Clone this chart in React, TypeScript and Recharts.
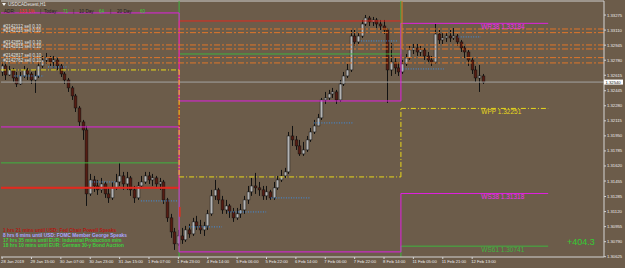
import React from 'react';
import { ComposedChart, Bar, XAxis, YAxis, ReferenceLine, ReferenceDot } from 'recharts';

const W = 625;
const H = 268;
const BG = '#6c5c4a';
const FONT = 'Liberation Sans, Arial, sans-serif';

// time axis (H1 bars, labels every 16 hours; one candle here = 2 hours)
const timeTickIdx = [0, 8, 16, 24, 32, 40, 48, 56, 64, 72, 80, 88, 96, 104, 112, 120, 128];
const timeLabels = [
  '28 Jan 2019', '29 Jan 15:00', '30 Jan 07:00', '30 Jan 23:00', '31 Jan 15:00',
  '1 Feb 07:00', '1 Feb 23:00', '4 Feb 14:00', '5 Feb 06:00', '5 Feb 22:00',
  '6 Feb 14:00', '7 Feb 06:00', '7 Feb 22:00', '8 Feb 14:00', '11 Feb 05:00',
  '11 Feb 21:00', '12 Feb 13:00',
];

const priceTicks = [
  1.33275, 1.3311, 1.32945, 1.3278, 1.32615, 1.32445, 1.3228, 1.32115, 1.3195,
  1.31785, 1.3162, 1.31455, 1.31285, 1.3112, 1.30955, 1.3079, 1.30625,
];
const bid = 1.3254;

const closes = [
  1.32717, 1.32618, 1.32673, 1.32585, 1.32519, 1.32607, 1.32673, 1.32629, 1.32563, 1.32607,
  1.32717, 1.32782, 1.32804, 1.3276, 1.32782, 1.32717, 1.32629, 1.32563, 1.32476, 1.32388,
  1.32256, 1.32103, 1.32015, 1.31314, 1.31467, 1.31401, 1.31358, 1.31423, 1.31314, 1.3127,
  1.3138, 1.31445, 1.31511, 1.31423, 1.31489, 1.31358, 1.3127, 1.31401, 1.31445, 1.31511,
  1.31467, 1.31489, 1.31423, 1.31445, 1.31248, 1.31051, 1.30897, 1.30766, 1.30853, 1.3081,
  1.30919, 1.30875, 1.31007, 1.30963, 1.30919, 1.30963, 1.31095, 1.31292, 1.31358, 1.31248,
  1.31138, 1.31182, 1.31116, 1.31051, 1.31095, 1.31138, 1.31248, 1.31336, 1.31401, 1.3138,
  1.31358, 1.31292, 1.31336, 1.3127, 1.3138, 1.31467, 1.31511, 1.31555, 1.31949, 1.31906,
  1.3184, 1.31752, 1.31796, 1.31906, 1.31993, 1.32059, 1.32147, 1.32344, 1.32366, 1.3241,
  1.32432, 1.32344, 1.32519, 1.32607, 1.32673, 1.33045, 1.3298, 1.33045, 1.33177, 1.33243,
  1.33199, 1.33221, 1.33177, 1.33155, 1.33111, 1.32673, 1.3276, 1.32695, 1.32651, 1.32739,
  1.32804, 1.32892, 1.32914, 1.3287, 1.32892, 1.32826, 1.32782, 1.3276, 1.33067, 1.33002,
  1.33024, 1.33045, 1.33024, 1.33045, 1.3298, 1.32914, 1.3287, 1.32782, 1.32673, 1.32585,
  1.32607, 1.3254,
];
const opens = [
  1.32651, 1.32717, 1.32618, 1.32673, 1.32585, 1.32519, 1.32607, 1.32673, 1.32629, 1.32563,
  1.32607, 1.32717, 1.32782, 1.32804, 1.3276, 1.32782, 1.32717, 1.32629, 1.32563, 1.32476,
  1.32388, 1.32256, 1.32103, 1.32015, 1.31314, 1.31467, 1.31401, 1.31358, 1.31423, 1.31314,
  1.3127, 1.3138, 1.31445, 1.31511, 1.31423, 1.31489, 1.31358, 1.3127, 1.31401, 1.31445,
  1.31511, 1.31467, 1.31489, 1.31423, 1.31445, 1.31248, 1.31051, 1.30897, 1.30766, 1.30853,
  1.3081, 1.30919, 1.30875, 1.31007, 1.30963, 1.30919, 1.30963, 1.31095, 1.31292, 1.31358,
  1.31248, 1.31138, 1.31182, 1.31116, 1.31051, 1.31095, 1.31138, 1.31248, 1.31336, 1.31401,
  1.3138, 1.31358, 1.31292, 1.31336, 1.3127, 1.3138, 1.31467, 1.31511, 1.31555, 1.31949,
  1.31906, 1.3184, 1.31752, 1.31796, 1.31906, 1.31993, 1.32059, 1.32147, 1.32344, 1.32366,
  1.3241, 1.32432, 1.32344, 1.32519, 1.32607, 1.32673, 1.33045, 1.3298, 1.33045, 1.33177,
  1.33243, 1.33199, 1.33221, 1.33177, 1.33155, 1.33111, 1.32673, 1.3276, 1.32695, 1.32651,
  1.32739, 1.32804, 1.32892, 1.32914, 1.3287, 1.32892, 1.32826, 1.32782, 1.3276, 1.33067,
  1.33002, 1.33024, 1.33045, 1.33024, 1.33045, 1.3298, 1.32914, 1.3287, 1.32782, 1.32673,
  1.32585, 1.32607,
];
const highs = [
  1.3276, 1.32739, 1.32717, 1.32695, 1.32651, 1.32651, 1.32717, 1.32695, 1.32651, 1.32673,
  1.3276, 1.32826, 1.32859, 1.32826, 1.32826, 1.32804, 1.32739, 1.32651, 1.32585, 1.32497,
  1.3241, 1.32278, 1.32125, 1.32059, 1.31533, 1.31511, 1.31467, 1.31489, 1.31445, 1.3138,
  1.31445, 1.31533, 1.31654, 1.31555, 1.31555, 1.31511, 1.31401, 1.31445, 1.31511, 1.31555,
  1.31555, 1.31533, 1.31511, 1.31489, 1.31467, 1.3127, 1.31095, 1.30941, 1.30919, 1.30941,
  1.30963, 1.30985, 1.31051, 1.31073, 1.31029, 1.31007, 1.31138, 1.31358, 1.31467, 1.3138,
  1.31292, 1.31248, 1.31204, 1.3116, 1.3116, 1.31204, 1.31292, 1.31401, 1.31489, 1.31544,
  1.31445, 1.31401, 1.31401, 1.31358, 1.31445, 1.31511, 1.31577, 1.31599, 1.31993, 1.32059,
  1.31949, 1.31906, 1.31884, 1.31949, 1.32037, 1.32125, 1.32191, 1.32366, 1.32432, 1.32454,
  1.32476, 1.32454, 1.32563, 1.32651, 1.32739, 1.33111, 1.33111, 1.33089, 1.33221, 1.33276,
  1.33265, 1.33254, 1.33243, 1.33221, 1.33221, 1.33133, 1.32969, 1.32804, 1.3276, 1.32782,
  1.32848, 1.32936, 1.32958, 1.32958, 1.32936, 1.32914, 1.3287, 1.32826, 1.33177, 1.33111,
  1.33089, 1.33089, 1.33111, 1.33133, 1.33067, 1.33002, 1.32936, 1.32892, 1.32804, 1.32717,
  1.32728, 1.32629,
];
const lows = [
  1.32607, 1.32563, 1.32607, 1.32541, 1.32486, 1.32508, 1.32585, 1.32563, 1.32519, 1.32421,
  1.32585, 1.32695, 1.32739, 1.32717, 1.32695, 1.32673, 1.32596, 1.32519, 1.32432, 1.32344,
  1.32212, 1.32059, 1.31906, 1.31182, 1.31292, 1.31336, 1.31303, 1.31325, 1.3127, 1.31215,
  1.31248, 1.31358, 1.31401, 1.31358, 1.31358, 1.31292, 1.31215, 1.31248, 1.3138, 1.31423,
  1.31423, 1.31401, 1.3138, 1.31358, 1.31204, 1.31007, 1.30832, 1.307, 1.30744, 1.30766,
  1.30788, 1.30832, 1.30853, 1.30919, 1.30875, 1.30853, 1.30919, 1.31073, 1.31248, 1.31204,
  1.31095, 1.31095, 1.31051, 1.31007, 1.31029, 1.31051, 1.31095, 1.31204, 1.31292, 1.31314,
  1.31292, 1.31248, 1.31248, 1.31248, 1.31248, 1.31358, 1.31445, 1.31489, 1.31533, 1.3184,
  1.31796, 1.3173, 1.3173, 1.31774, 1.31884, 1.31971, 1.32059, 1.32125, 1.323, 1.32344,
  1.32366, 1.323, 1.32322, 1.32497, 1.32585, 1.32651, 1.32936, 1.32958, 1.33024, 1.33155,
  1.33155, 1.33155, 1.33133, 1.33111, 1.33067, 1.32311, 1.32607, 1.32629, 1.32607, 1.32629,
  1.32717, 1.32782, 1.32848, 1.32826, 1.32826, 1.32782, 1.3276, 1.32717, 1.32739, 1.32958,
  1.32958, 1.3298, 1.3298, 1.33002, 1.32936, 1.3287, 1.32804, 1.32717, 1.32629, 1.32541,
  1.32432, 1.32519,
];

// weekly fibonacci pivots, one value per week
const weekFrom = [-0.3, 48.2, 108.6];
const weekTo = [48.2, 108.6, 148.7];
const wpp = [1.32673, 1.315, 1.32251];
const wr38 = [1.33298, 1.32333, 1.33184];
const ws38 = [1.32048, 1.30678, 1.31318];
const wr61 = [1.33683, 1.32848, 1.33761];
const ws61 = [1.31654, 1.30152, 1.30741];
const redLevel = [1.3138, 1.3321];
const redMark = [1.31171, 1.31062];

// open sell orders
const orderTickets = [
  '#2142112 sell 0.10', '#2142116 sell 0.10', '#2142851 sell 0.10',
  '#2142815 sell 0.10', '#2142817 sell 0.10', '#2142762 sell 0.10',
];
const orderPrices = [1.33122, 1.33082, 1.32947, 1.32903, 1.32808, 1.3275];

// short dotted levels
const dotFrom = [3.2, 12.5, 23.7, 37.8, 50.9, 61.5, 73.2, 84.9, 97.7, 109.2, 124.2];
const dotTo = [11.4, 18, 31, 47.9, 59.9, 71.9, 84.1, 95.8, 107.8, 120.3, 130.4];
const dotPrice = [
  1.32607, 1.32706, 1.31445, 1.31237, 1.30952, 1.31116, 1.3127, 1.32092, 1.32991, 1.32684, 1.33035,
];

const newsLines = [
  '1 hrs 21 mins until USD: Fed Chair Powell Speaks',
  '8 hrs 6 mins until USD: FOMC Member George Speaks',
  '17 hrs 35 mins until EUR: Industrial Production m/m',
  '18 hrs 10 mins until EUR: German 30-y Bond Auction',
];
const newsColors = ['#b01a14', '#a9a6ff', '#3fcf3f', '#3fcf3f'];

const yMin = 1.30622;
const yMax = 1.33429;
const xMin = -0.3;
const xMax = 163.9;

const candles = closes.map((c, i) => ({
  i,
  open: opens[i],
  high: highs[i],
  low: lows[i],
  close: c,
  range: [lows[i], highs[i]],
}));

function Candle(props: any) {
  const { x, y, width, height, payload } = props;
  if (x == null || y == null || !payload) return null;
  const top = Math.min(y, y + height);
  const bottom = Math.max(y, y + height);
  const span = payload.high - payload.low;
  const k = span > 0 ? (bottom - top) / span : 0;
  const yO = top + (payload.high - payload.open) * k;
  const yC = top + (payload.high - payload.close) * k;
  const bull = payload.close >= payload.open;
  const cx = Math.round(x + width / 2) + 0.5;
  const bodyTop = Math.min(yO, yC);
  const bodyH = Math.max(Math.abs(yC - yO), 1);
  return (
    <g>
      <line x1={cx} x2={cx} y1={top} y2={bottom} stroke="#121212" strokeWidth={1} />
      <rect
        x={cx - 1.4}
        y={bodyTop}
        width={2.8}
        height={bodyH}
        fill={bull ? '#b4b4b4' : '#561c12'}
        stroke="#121212"
        strokeWidth={0.5}
      />
    </g>
  );
}

function TimeTick({ x, y, payload }: any) {
  const k = timeTickIdx.indexOf(payload.value);
  return (
    <text x={x - 1} y={y + 4} fontSize={4.2} fill="#ececec" fontFamily={FONT} textAnchor="start">
      {timeLabels[k]}
    </text>
  );
}

function PriceTick({ x, y, payload }: any) {
  return (
    <text x={x + 1} y={y + 1.5} fontSize={4.2} fill="#ececec" fontFamily={FONT} textAnchor="start">
      {payload.value.toFixed(5)}
    </text>
  );
}

function seg(x1: number, y1: number, x2: number, y2: number) {
  return [{ x: x1, y: y1 }, { x: x2, y: y2 }];
}

function levelLines(values: number[], color: string, width: number, dash?: string, key = '') {
  const out: React.ReactNode[] = [];
  values.forEach((v, w) => {
    out.push(
      <ReferenceLine
        key={`${key}h${w}`}
        segment={seg(weekFrom[w], v, weekTo[w], v)}
        stroke={color}
        strokeWidth={width}
        strokeDasharray={dash}
        ifOverflow="hidden"
      />
    );
    if (w > 0) {
      out.push(
        <ReferenceLine
          key={`${key}v${w}`}
          segment={seg(weekFrom[w], values[w - 1], weekFrom[w], v)}
          stroke={color}
          strokeWidth={width}
          strokeDasharray={dash}
          ifOverflow="hidden"
        />
      );
    }
  });
  return out;
}

function textShape(label: string, color: string, size: number, dy: number, bold = false) {
  return (p: any) => (
    <text
      x={p.cx}
      y={p.cy + dy}
      fontSize={size}
      fill={color}
      fontFamily={FONT}
      fontWeight={bold ? 700 : 400}
    >
      {label}
    </text>
  );
}

export default function App() {
  return (
    <div style={{ position: 'fixed', left: 0, top: 0, width: W, height: H, background: BG, overflow: 'hidden' }}>
      <ComposedChart
        width={W}
        height={H}
        data={candles}
        margin={{ top: 1, right: 0, bottom: 0, left: 1 }}
      >
        <XAxis
          type="number"
          dataKey="i"
          domain={[xMin, xMax]}
          allowDataOverflow
          ticks={timeTickIdx}
          interval={0}
          height={11}
          tickSize={2}
          tickMargin={0}
          stroke="#d4d4d4"
          tick={<TimeTick />}
        />
        <YAxis
          type="number"
          orientation="right"
          domain={[yMin, yMax]}
          allowDataOverflow
          ticks={priceTicks}
          interval={0}
          width={21}
          tickSize={2}
          tickMargin={0}
          stroke="#d4d4d4"
          tick={<PriceTick />}
        />

        <ReferenceLine y={yMax} stroke="#cfcfcf" ifOverflow="visible" />
        <ReferenceLine y={bid} stroke="#a3a3a3" ifOverflow="visible" />

        {dotPrice.map((p, k) => (
          <ReferenceLine
            key={`dot${k}`}
            segment={seg(dotFrom[k], p, dotTo[k], p)}
            stroke="#3d8fe6"
            strokeDasharray="1 1.5"
            ifOverflow="hidden"
          />
        ))}

        {levelLines(ws61, '#3fb43f', 1, undefined, 's61')}
        {levelLines(wr61, '#3fb43f', 1, undefined, 'r61')}
        {levelLines(redLevel, '#e02a1f', 1, undefined, 'red')}
        <ReferenceLine segment={seg(weekFrom[0], redLevel[0], weekTo[0], redLevel[0])} stroke="#e02a1f" strokeWidth={2} ifOverflow="hidden" />
        {levelLines(wr38, '#e020e0', 1, undefined, 'r38')}
        {levelLines(ws38, '#e020e0', 1, undefined, 's38')}
        <ReferenceLine segment={seg(weekFrom[1] + 0.2, redMark[0], weekFrom[1] + 0.2, redMark[1])} stroke="#e0301f" strokeWidth={1.5} ifOverflow="hidden" />
        {levelLines(wpp, '#e8d81a', 1, '5 2 1 2', 'pp')}
        <ReferenceLine segment={seg(108.9, yMax, 108.9, orderPrices[3])} stroke="#e07a20" ifOverflow="hidden" />

        {orderPrices.map((p, k) => (
          <ReferenceLine
            key={`ord${k}`}
            y={p}
            stroke="#e0762a"
            strokeDasharray="6 2 2 2"
            ifOverflow="hidden"
          />
        ))}

        <Bar dataKey="range" barSize={3} isAnimationActive={false} shape={<Candle />} />

        {orderPrices.map((p, k) => (
          <ReferenceDot
            key={`ordl${k}`}
            x={0.3}
            y={p}
            r={0}
            ifOverflow="visible"
            shape={textShape(orderTickets[k], '#e4e4e4', 4.5, -1)}
          />
        ))}

        <ReferenceDot x={130.5} y={wr38[2]} r={0} ifOverflow="visible"
          shape={textShape(`WR38  ${wr38[2].toFixed(5)}`, '#ee30ee', 6.5, 5.5)} />
        <ReferenceDot x={130.5} y={wpp[2]} r={0} ifOverflow="visible"
          shape={textShape(`WPP  ${wpp[2].toFixed(5)}`, '#e8d81a', 6.5, 5.5)} />
        <ReferenceDot x={130.5} y={ws38[2]} r={0} ifOverflow="visible"
          shape={textShape(`WS38  ${ws38[2].toFixed(5)}`, '#ee30ee', 6.5, 5.5)} />
        <ReferenceDot x={130.5} y={ws61[2]} r={0} ifOverflow="visible"
          shape={textShape(`WS61  ${ws61[2].toFixed(5)}`, '#3fb43f', 6.5, 5.5)} />

        <ReferenceDot
          x={xMax}
          y={bid}
          r={0}
          ifOverflow="visible"
          shape={(p: any) => (
            <g>
              <rect x={p.cx} y={p.cy - 2.5} width={19} height={5} fill="#ffffff" />
              <text x={p.cx + 1.5} y={p.cy + 1.5} fontSize={4.2} fill="#111" fontFamily={FONT}>
                {bid.toFixed(5)}
              </text>
            </g>
          )}
        />
      </ComposedChart>

      <svg
        width={W}
        height={H}
        style={{ position: 'absolute', left: 0, top: 0, pointerEvents: 'none' }}
        fontFamily={FONT}
      >
        <polygon points="2,3 6,3 4,6" fill="#f0f0f0" />
        <text x={8} y={6} fontSize={4.6} fill="#e2e2e2">USDCADeuest,H1</text>
        <text y={13} fontSize={4.6}>
          <tspan x={4} fill="#1e1e1e">ADR:</tspan>
          <tspan x={19} fill="#ff2a2a">133.1%</tspan>
          <tspan x={40} fill="#1e1e1e">|</tspan>
          <tspan x={44} fill="#1e1e1e">Today:</tspan>
          <tspan x={63} fill="#38d038">71</tspan>
          <tspan x={73} fill="#1e1e1e">|</tspan>
          <tspan x={79} fill="#1e1e1e">10 Day</tspan>
          <tspan x={99} fill="#38d038">64</tspan>
          <tspan x={110} fill="#1e1e1e">|</tspan>
          <tspan x={117} fill="#1e1e1e">20 Day</tspan>
          <tspan x={140} fill="#38d038">60</tspan>
        </text>
        {newsLines.map((t, k) => (
          <text key={k} x={3} y={231.5 + k * 5.2} fontSize={4.8} fontWeight={700} fill={newsColors[k]}>
            {t}
          </text>
        ))}
        <text x={567} y={245} fontSize={9} fill="#33cc33">+404.3</text>
      </svg>
    </div>
  );
}
